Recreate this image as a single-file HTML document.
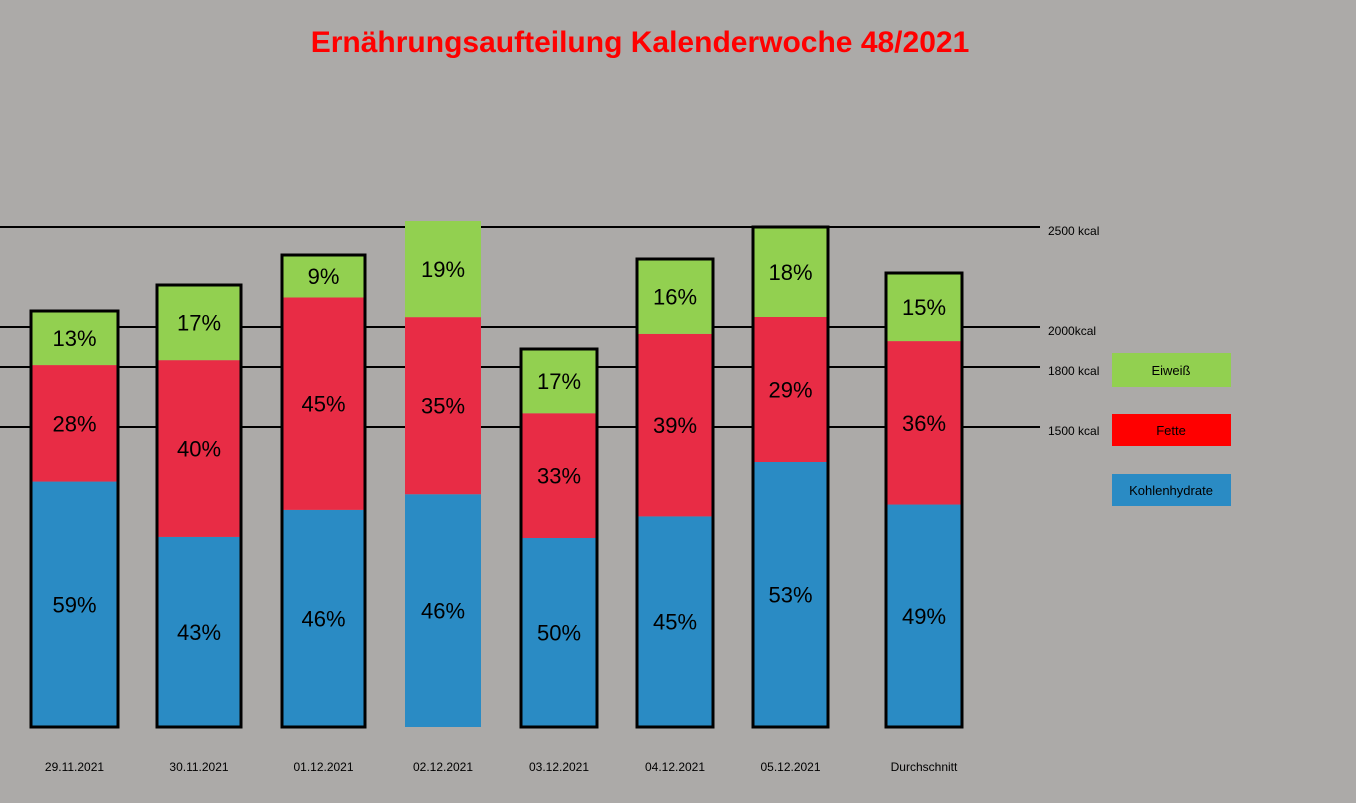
<!DOCTYPE html>
<html><head><meta charset="utf-8"><style>
body{margin:0;background:#acaaa8;}
svg{display:block;font-family:"Liberation Sans",sans-serif;}
</style></head><body>
<svg width="1356" height="803" id="chart">
<rect width="1356" height="803" fill="#acaaa8"/>
<text x="640" y="52" text-anchor="middle" font-size="30" font-weight="bold" fill="#ff0000">Ernährungsaufteilung Kalenderwoche 48/2021</text>
<g id="lines"></g><g id="bars"></g>
<g>
<rect x="1112" y="353" width="119" height="34" fill="#92d050"/>
<text x="1171" y="375" text-anchor="middle" font-size="13">Eiweiß</text>
<rect x="1112" y="414" width="119" height="32" fill="#ff0000"/>
<text x="1171" y="435" text-anchor="middle" font-size="13">Fette</text>
<rect x="1112" y="474" width="119" height="32" fill="#2a8bc4"/>
<text x="1171" y="495" text-anchor="middle" font-size="13">Kohlenhydrate</text>
</g>
</svg>
<script>
const categories=["29.11.2021","30.11.2021","01.12.2021","02.12.2021","03.12.2021","04.12.2021","05.12.2021","Durchschnitt"];
const totalKcal=[2080,2210,2360,2530,1890,2340,2500,2270];
const carbPct=[59,43,46,46,50,45,53,49];
const fatPct=[28,40,45,35,33,39,29,36];
const proteinPct=[13,17,9,19,17,16,18,15];
const refKcal=[2500,2000,1800,1500];
const refLabels=["2500 kcal","2000kcal","1800 kcal","1500 kcal"];
const barX=[31,157,282,405,521,637,753,886];
const barW=[87,84,83,76,76,76,75,76];
const NS="http://www.w3.org/2000/svg";
const y=k=>727-k*0.2;
function mk(t,a,p){const e=document.createElementNS(NS,t);for(const k in a)e.setAttribute(k,a[k]);p.appendChild(e);return e;}
const L=document.getElementById('lines'),B=document.getElementById('bars');
refKcal.forEach((k,i)=>{
const l=mk('line',{x1:0,x2:1040,y1:y(k),y2:y(k),stroke:'#000','stroke-width':2},L);


const t=mk('text',{x:1048,y:y(k)+8,'font-size':12},L);t.textContent=refLabels[i];


});
categories.forEach((c,i)=>{
const tot=totalKcal[i],s=carbPct[i]+fatPct[i]+proteinPct[i];
const segs=[[carbPct[i],'#2a8bc4'],[fatPct[i],'#e82c45'],[proteinPct[i],'#92d050']];
let base=0;const x=barX[i],w=barW[i];
segs.forEach(([p,col])=>{
const k=tot*p/s;const y0=y(base+k),h=k*0.2;
const r=mk('rect',{x:x,y:y0,width:w,height:h,fill:col},B);


const t=mk('text',{x:x+w/2,y:y0+h/2+8,'text-anchor':'middle','font-size':22},B);t.textContent=p+'%';


base+=k;});
if(i!==3){const o=mk('rect',{x:x,y:y(tot),width:w,height:tot*0.2,fill:'none',stroke:'#000','stroke-width':3},B);

}
const t=mk('text',{x:x+w/2,y:771,'text-anchor':'middle','font-size':12},B);t.textContent=c;


});
</script>
</body></html>
